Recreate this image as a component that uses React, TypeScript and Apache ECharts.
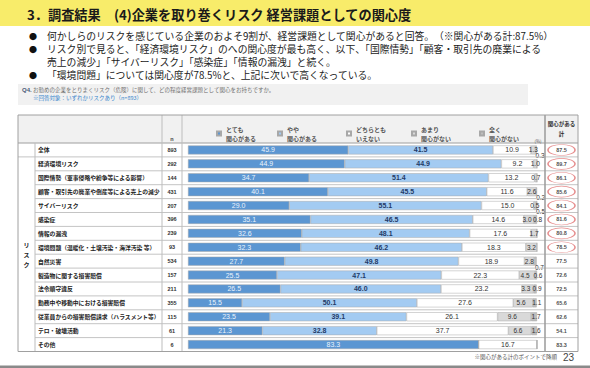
import React, { useEffect, useRef } from 'react';
import * as echarts from 'echarts';

const CATEGORIES = [
  '全体',
  '経済環境リスク',
  '国際情勢（軍事侵略や紛争等による影響）',
  '顧客・取引先の廃業や倒産等による売上の減少',
  'サイバーリスク',
  '感染症',
  '情報の漏洩',
  '環境問題（温暖化・土壌汚染・海洋汚染 等）',
  '自然災害',
  '製造物に関する損害賠償',
  '法令順守違反',
  '勤務中や移動中における損害賠償',
  '従業員からの損害賠償請求（ハラスメント等）',
  'テロ・破壊活動',
  'その他',
];
const N_VALUES = [893, 292, 144, 431, 207, 396, 239, 93, 534, 157, 211, 355, 115, 61, 6];
const LEGEND = ['とても\n関心がある', 'やや\n関心がある', 'どちらとも\nいえない', 'あまり\n関心がない', '全く\n関心がない'];
const VERY = [45.9, 44.9, 34.7, 40.1, 29.0, 35.1, 32.6, 32.3, 27.7, 25.5, 26.5, 15.5, 23.5, 21.3, 83.3];
const SOMEWHAT = [41.5, 44.9, 51.4, 45.5, 55.1, 46.5, 48.1, 46.2, 49.8, 47.1, 46.0, 50.1, 39.1, 32.8, 0];
const NEUTRAL = [10.9, 9.2, 13.2, 11.6, 15.0, 14.6, 17.6, 18.3, 18.9, 22.3, 23.2, 27.6, 26.1, 37.7, 16.7];
const LITTLE = [1.3, 1.0, 0.7, 2.6, 0.5, 3.0, 1.7, 3.2, 2.8, 4.5, 3.3, 5.6, 9.6, 6.6, 0];
const NONE = [0.3, 0, 0, 0.2, 0.5, 0.8, 0, 0, 0.7, 0.6, 0.9, 1.1, 1.7, 1.6, 0];
const TOTAL = [87.5, 89.7, 86.1, 85.6, 84.1, 81.6, 80.8, 78.5, 77.5, 72.6, 72.5, 65.6, 62.6, 54.1, 83.3];
const CIRCLED_ROWS = 8;

const TITLE = '3．調査結果　(4)企業を取り巻くリスク 経営課題としての関心度';
const BULLETS = [
  '何かしらのリスクを感じている企業のおよそ9割が、経営課題として関心があると回答。　（※関心がある計:87.5%）',
  'リスク別で見ると、「経済環境リスク」のへの関心度が最も高く、以下、「国際情勢」「顧客・取引先の廃業による',
  '売上の減少」「サイバーリスク」「感染症」「情報の漏洩」と続く。',
  '「環境問題」については関心度が78.5%と、上記に次いで高くなっている。',
];
const QUESTION = 'お勤めの企業をとりまくリスク（危険）に関して、どの程度経営課題として関心をお持ちですか。';
const RESPONDENTS = '※回答対象：いずれかリスクあり（n=893）';
const FOOTNOTE = '※関心がある計のポイントで降順';

const FONT = "'Noto Sans CJK JP', 'Noto Sans', sans-serif";
const NUMFONT = "'Liberation Sans', Arial, sans-serif";
const COLORS = ['#5b96d2', '#a3cbf2', '#ffffff', '#d9d9d9', '#bdbdbd'];
const LABEL_COLORS = ['#eaf3fc', '#1f3a66', '#333333', '#333333', '#333333'];

export default function App() {
  const ref = useRef<HTMLDivElement>(null);
  useEffect(() => {
    if (!ref.current) return;
    const chart = echarts.init(ref.current, undefined, { renderer: 'svg' });

    const TL = 18, TR = 578, HT = 115, HB = 143, RH = 13.9, NR = CATEGORIES.length;
    const TB = HB + RH * NR;
    const GX = 188, GW = 349, TX = 545, TW = 33;
    const XG = 35, XL = 162, XN = 182;

    const dropped = (i: number) => NONE[i] > 0 && NONE[i] < 0.8 && LITTLE[i] < 4;

    const series: any[] = [VERY, SOMEWHAT, NEUTRAL, LITTLE, NONE].map((arr, s) => ({
      type: 'bar',
      name: LEGEND[s],
      stack: 'all',
      xAxisIndex: 0,
      yAxisIndex: 0,
      barWidth: 9,
      clip: false,
      itemStyle: { color: COLORS[s], borderColor: '#a8a8a8', borderWidth: 0.5 },
      label: {
        show: true,
        position: 'inside',
        fontSize: s >= 3 ? 6.5 : 7,
        fontFamily: NUMFONT,
        fontWeight: s === 1 ? 'bold' : 'normal',
        color: LABEL_COLORS[s],
        formatter: (p: any) => (p.value > 0 ? Number(p.value).toFixed(1) : ''),
      },
      data: arr.map((v, i) => {
        if (s === 4 && v > 0) {
          return { value: v, label: { offset: dropped(i) ? [4, 6] : [2, 0] } };
        }
        if (s === 3 && v > 0 && NONE[i] > 0 && !dropped(i)) {
          return { value: v, label: { offset: [-2, 0] } };
        }
        return v;
      }),
    }));

    series.push({
      type: 'scatter',
      xAxisIndex: 1,
      yAxisIndex: 2,
      symbol: 'path://M0,1 C0,0.448 0.448,0 1,0 C1.552,0 2,0.448 2,1 C2,1.552 1.552,2 1,2 C0.448,2 0,1.552 0,1 Z',
      symbolSize: [27, 11],
      itemStyle: { color: 'rgba(255,255,255,0)', borderColor: '#e07272', borderWidth: 1 },
      label: {
        show: true,
        position: 'inside',
        fontSize: 5.5,
        fontWeight: 'bold',
        fontFamily: NUMFONT,
        color: '#222',
        formatter: (p: any) => TOTAL[p.dataIndex].toFixed(1),
      },
      data: TOTAL.map((v, i) => ({
        value: [0.5, i],
        itemStyle: i < CIRCLED_ROWS ? undefined : { borderWidth: 0, borderColor: 'rgba(0,0,0,0)' },
      })),
    });

    const legendLefts = [216, 277, 346, 411, 479];
    const legends = LEGEND.map((name, i) => ({
      data: [name],
      left: legendLefts[i],
      top: 120,
      padding: 0,
      orient: 'horizontal',
      icon: 'rect',
      itemWidth: 4,
      itemHeight: 4,
      itemGap: 3,
      selectedMode: false,
      textStyle: {
        fontSize: 6,
        fontFamily: FONT,
        fontWeight: 'bold',
        color: '#555',
        lineHeight: 9,
        padding: [9, 0, 0, 0],
      },
    }));

    const lines: any[] = [];
    const hline = (x1: number, x2: number, y: number, color = '#c4c4c4', w = 1) =>
      lines.push({ type: 'line', z: 50, shape: { x1, y1: y, x2, y2: y }, style: { stroke: color, lineWidth: w } });
    const vline = (x: number, y1: number, y2: number, color = '#bdbdbd', w = 1) =>
      lines.push({ type: 'line', z: 50, shape: { x1: x, y1, x2: x, y2 }, style: { stroke: color, lineWidth: w } });
    for (let k = 1; k < NR; k++) hline(k === 1 ? TL : XG, TR, HB + RH * k);
    hline(TL, TR, HB, '#9e9e9e');
    vline(XG, HB, TB);
    vline(XL, HT, TB);
    vline(XN, HT, TB);
    vline(TX, HT, TB, '#9a9a9a', 1.5);

    const txt = (x: number, y: number, text: string, opt: any = {}) => ({
      type: 'text',
      x,
      y,
      z: 60,
      style: {
        text,
        fontFamily: FONT,
        fontSize: 6,
        fill: '#222',
        align: 'left',
        verticalAlign: 'middle',
        ...opt,
      },
    });

    const bulletY = [36, 49, 62, 75];
    const graphic: any[] = [
      { type: 'rect', z: -10, shape: { x: 0, y: 0, width: 590, height: 26 }, style: { fill: '#f8ec6a' } },
      txt(27, 14, TITLE, { fontSize: 13.2, fontWeight: 'bold', fill: '#1a1a1a' }),
      ...BULLETS.map((b, i) => txt(47, bulletY[i], b, { fontSize: 9.8, lineHeight: 11, fill: '#222' })),
      ...[0, 1, 3].map((i) => txt(33, bulletY[i], '●', { fontSize: 8, lineHeight: 9, align: 'center', fill: '#111' })),
      { type: 'rect', z: -10, shape: { x: 18, y: 84, width: 510, height: 21 }, style: { fill: '#f1f1f1' } },
      txt(22, 90, 'Q4.', { fontSize: 6, fontWeight: 'bold', fill: '#4b5b78', fontFamily: NUMFONT }),
      txt(33, 90, QUESTION, { fontSize: 5.5, fill: '#707070' }),
      txt(33, 98, RESPONDENTS, { fontSize: 5.5, fill: '#3a86cc' }),
      { type: 'rect', z: -10, shape: { x: TL, y: HT, width: TR - TL, height: HB - HT }, style: { fill: '#f1f1f1' } },
      { type: 'rect', z: 55, shape: { x: TL, y: HT, width: TR - TL, height: TB - HT }, style: { fill: 'none', stroke: '#a0a0a0', lineWidth: 1 } },
      ...lines,
      txt((XL + XN) / 2, 139, 'n', { fontSize: 5.5, align: 'center', fontWeight: 'bold', fontFamily: NUMFONT, fill: '#444' }),
      txt(538, 141, '(%)', { fontSize: 4.5, align: 'center', fill: '#555' }),
      txt(TX + TW / 2, 129, '関心がある\n計', { fontSize: 5.5, align: 'center', fontWeight: 'bold', lineHeight: 10, fill: '#333' }),
      txt((TL + XG) / 2, HB + RH + (TB - HB - RH) / 2, 'リ\nス\nク', { fontSize: 6, align: 'center', fontWeight: 'bold', lineHeight: 10 }),
      txt(557, 357, FOOTNOTE, { fontSize: 5.5, align: 'right', fill: '#555' }),
      txt(563, 357, '23', { fontSize: 10, fill: '#444', fontFamily: NUMFONT }),
      { type: 'rect', z: -10, shape: { x: 0, y: 365.5, width: 590, height: 2.5 }, style: { fill: '#8a8a8a' } },
    ];

    chart.setOption({
      animation: false,
      backgroundColor: '#ffffff',
      legend: legends,
      grid: [
        { left: GX, top: HB, width: GW, height: RH * NR, containLabel: false },
        { left: TX, top: HB, width: TW, height: RH * NR, containLabel: false },
      ],
      xAxis: [
        { type: 'value', gridIndex: 0, min: 0, max: 100, show: false },
        { type: 'value', gridIndex: 1, min: 0, max: 1, show: false },
      ],
      yAxis: [
        {
          type: 'category',
          gridIndex: 0,
          position: 'left',
          inverse: true,
          data: CATEGORIES,
          axisLine: { show: false },
          axisTick: { show: false },
          axisLabel: {
            margin: GX - 38,
            align: 'left',
            fontSize: 5.8,
            fontWeight: 'bold',
            fontFamily: FONT,
            color: '#222',
          },
        },
        {
          type: 'category',
          gridIndex: 0,
          position: 'left',
          inverse: true,
          data: CATEGORIES,
          axisLine: { show: false },
          axisTick: { show: false },
          axisLabel: {
            margin: GX - (XL + XN) / 2,
            align: 'center',
            fontSize: 5.5,
            fontWeight: 'bold',
            fontFamily: NUMFONT,
            color: '#333',
            formatter: (_v: string, idx: number) => String(N_VALUES[idx]),
          },
        },
        {
          type: 'category',
          gridIndex: 1,
          inverse: true,
          data: CATEGORIES,
          show: false,
        },
      ],
      graphic,
      series,
    });

    return () => chart.dispose();
  }, []);

  return <div ref={ref} style={{ position: 'fixed', left: 0, top: 0, width: 590, height: 368 }} />;
}
